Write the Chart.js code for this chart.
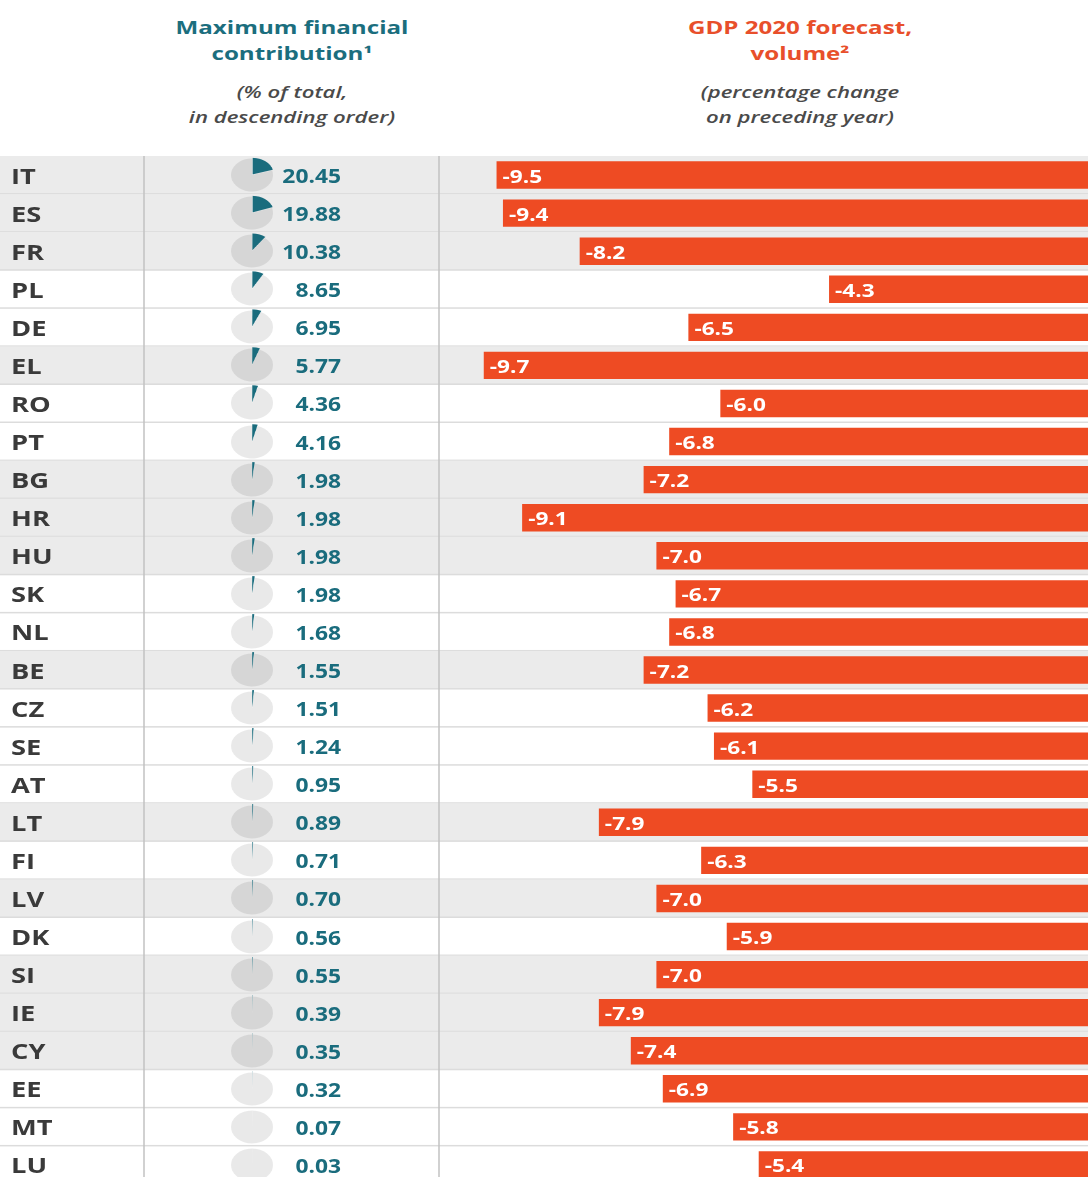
<!DOCTYPE html>
<html lang="en">
<head>
<meta charset="UTF-8">
<title>Maximum financial contribution and GDP 2020 forecast</title>
<style>
    body {
        margin: 0;
        background: #fff;
        font-family: "Open Sans", Arial, sans-serif;
    }

    #page {
        position: relative;
        width: 1088px;
        height: 1177px;
        overflow: hidden;
        background: #fff;
    }

    .head {
        position: absolute;
        width: 400px;
        text-align: center;
        white-space: nowrap;
    }

    .head.title {
        font-weight: 700;
        font-size: 17px;
        line-height: 25.5px;
        transform: scaleX(1.42);
    }

    .head.sub {
        font-style: italic;
        font-weight: 600;
        font-size: 17px;
        line-height: 25px;
        color: #4a4a4a;
        transform: scaleX(1.3);
    }

    #barChart {
        position: absolute;
        left: 0;
        top: 156px;
    }

    .pie {
        position: absolute;
    }
</style>
<script src="https://cdn.jsdelivr.net/npm/chart.js"></script>
</head>
<body>

<div id="page">
    <div class="head title" style="left:92px; top:15px; color:#1b6e7e;">Maximum financial<br>contribution¹</div>
    <div class="head sub" style="left:92px; top:79px;">(% of total,<br>in descending order)</div>

    <div class="head title" style="left:600px; top:15px; color:#e84f2b;">GDP 2020 forecast,<br>volume²</div>
    <div class="head sub" style="left:600px; top:79px;">(percentage change<br>on preceding year)</div>

    <canvas id="barChart" width="1104" height="1028"></canvas>
    <div id="pies"></div>
</div>

<script>
    const countries = ['IT', 'ES', 'FR', 'PL', 'DE', 'EL', 'RO', 'PT', 'BG', 'HR', 'HU', 'SK', 'NL', 'BE',
        'CZ', 'SE', 'AT', 'LT', 'FI', 'LV', 'DK', 'SI', 'IE', 'CY', 'EE', 'MT', 'LU'];

    // maximum financial contribution, % of total
    const contribution = [20.45, 19.88, 10.38, 8.65, 6.95, 5.77, 4.36, 4.16, 1.98, 1.98, 1.98, 1.98, 1.68, 1.55,
        1.51, 1.24, 0.95, 0.89, 0.71, 0.70, 0.56, 0.55, 0.39, 0.35, 0.32, 0.07, 0.03];

    // GDP 2020 forecast, volume, % change on preceding year
    const gdpForecast = [-9.5, -9.4, -8.2, -4.3, -6.5, -9.7, -6.0, -6.8, -7.2, -9.1, -7.0, -6.7, -6.8, -7.2,
        -6.2, -6.1, -5.5, -7.9, -6.3, -7.0, -5.9, -7.0, -7.9, -7.4, -6.9, -5.8, -5.4];

    // rows with grey background
    const shadedRows = ['IT', 'ES', 'FR', 'EL', 'BG', 'HR', 'HU', 'BE', 'LT', 'LV', 'SI', 'IE', 'CY'];

    const TEAL = '#1a6c7d';
    const BAR_RED = '#ee4b23';
    const TEXT_STRETCH = 1.3;

    function stretchedText(ctx, text, x, y, align, sx) {
        ctx.save();
        ctx.translate(x, y);
        ctx.scale(sx, 1);
        ctx.textAlign = align;
        ctx.fillText(text, 0, 0);
        ctx.restore();
    }

    const tablePlugin = {
        id: 'tableRows',
        beforeDatasetsDraw(chart) {
            const ctx = chart.ctx;
            const yScale = chart.scales.y;
            const rowH = yScale.height / countries.length;
            const w = chart.width;

            ctx.save();
            countries.forEach(function (code, i) {
                const yc = yScale.getPixelForValue(i);
                const top = yc - rowH / 2;
                if (shadedRows.includes(code)) {
                    ctx.fillStyle = '#ebebeb';
                    ctx.fillRect(0, top, w, rowH);
                }
                // row separator
                ctx.fillStyle = '#dcdcdc';
                ctx.fillRect(0, top + rowH - 1, w, 1.5);

                ctx.textBaseline = 'alphabetic';
                ctx.fillStyle = '#3a3a3a';
                ctx.font = 'bold 21px "Open Sans"';
                stretchedText(ctx, code, 11, yc + 8.5, 'left', TEXT_STRETCH);

                ctx.fillStyle = TEAL;
                ctx.font = 'bold 19px "Open Sans"';
                stretchedText(ctx, contribution[i].toFixed(2), 341, yc + 8, 'right', 1.2);
            });

            // column dividers
            ctx.strokeStyle = '#c2c2c2';
            ctx.lineWidth = 1.5;
            [144, chart.chartArea.left].forEach(function (x) {
                ctx.beginPath();
                ctx.moveTo(x, 0);
                ctx.lineTo(x, chart.height);
                ctx.stroke();
            });
            ctx.restore();
        },
        afterDatasetsDraw(chart) {
            const ctx = chart.ctx;
            const meta = chart.getDatasetMeta(0);
            ctx.save();
            ctx.fillStyle = '#ffffff';
            ctx.font = 'bold 17px "Open Sans"';
            ctx.textBaseline = 'alphabetic';
            meta.data.forEach(function (bar, i) {
                stretchedText(ctx, gdpForecast[i].toFixed(1), bar.x + 6, bar.y + 7.5, 'left', 1.33);
            });
            ctx.restore();
        }
    };

    const barChart = new Chart(document.getElementById('barChart').getContext('2d'), {
        type: 'bar',
        data: {
            labels: countries,
            datasets: [{
                data: gdpForecast,
                backgroundColor: BAR_RED,
                borderWidth: 0,
                barPercentage: 0.72,
                categoryPercentage: 1
            }]
        },
        options: {
            indexAxis: 'y',
            responsive: false,
            animation: false,
            events: [],
            layout: { padding: { left: 439, right: 0, top: 0, bottom: 0 } },
            scales: {
                x: { display: false, min: -10.4, max: 0 },
                y: { display: false }
            },
            plugins: {
                legend: { display: false },
                tooltip: { enabled: false }
            }
        },
        plugins: [tablePlugin]
    });

    // small pie per row, drawn square then squeezed to the flat ellipse of the original
    const piesBox = document.getElementById('pies');
    const barTop = document.getElementById('barChart').offsetTop;
    const PIE_PX = 72;
    const pieW = 45.7;
    const pieH = 36;

    countries.forEach(function (code, i) {
        const yc = barTop + barChart.scales.y.getPixelForValue(i);
        const cv = document.createElement('canvas');
        cv.className = 'pie';
        cv.width = PIE_PX;
        cv.height = PIE_PX;
        cv.style.width = pieW + 'px';
        cv.style.height = pieH + 'px';
        cv.style.left = (252 - pieW / 2) + 'px';
        cv.style.top = (yc - pieH / 2) + 'px';
        piesBox.appendChild(cv);

        new Chart(cv.getContext('2d'), {
            type: 'pie',
            data: {
                labels: [code, 'other'],
                datasets: [{
                    data: [contribution[i], 100 - contribution[i]],
                    backgroundColor: [TEAL, 'rgba(0, 0, 0, 0.085)'],
                    borderWidth: 0,
                    offset: [6, 0]
                }]
            },
            options: {
                responsive: false,
                animation: false,
                events: [],
                plugins: {
                    legend: { display: false },
                    tooltip: { enabled: false }
                }
            }
        });
    });
</script>

</body>
</html>
